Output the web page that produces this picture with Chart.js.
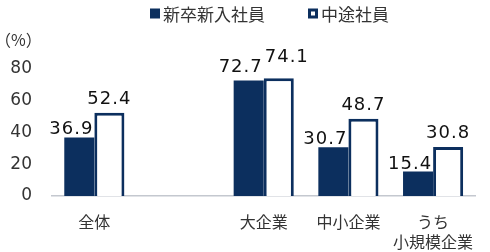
<!DOCTYPE html>
<html>
<head>
<meta charset="utf-8">
<script src="https://cdn.jsdelivr.net/npm/chart.js@4"></script>
<style>
  html, body { margin: 0; padding: 0; background: #fff; }
</style>
</head>
<body>
<canvas id="chart" width="490" height="252"></canvas>
<script>
// data
const categories = ['全体', '', '大企業', '中小企業', ['うち', '小規模企業']];
const newGradRates = [36.9, null, 72.7, 30.7, 15.4];
const midCareerRates = [52.4, null, 74.1, 48.7, 30.8];
const seriesNames = ['新卒新入社員', '中途社員'];
const yTicks = [0, 20, 40, 60, 80];
const unitLabel = '（%）';

const NAVY = '#0c2f5e';
const TEXT = '#333333';
const NUM_FONT = '"DejaVu Sans", "Noto Sans CJK JP", sans-serif';
const JP_FONT = '"Noto Sans CJK JP", "DejaVu Sans", sans-serif';

Chart.defaults.font.family = NUM_FONT;

// value labels above the bars; when the two labels of a group would collide
// they are lifted and the white bar's label is pushed to the right
const valueLabels = {
  id: 'valueLabels',
  afterDatasetsDraw(chart) {
    const ctx = chart.ctx;
    const dark = chart.getDatasetMeta(0).data;
    const light = chart.getDatasetMeta(1).data;
    ctx.save();
    ctx.font = '18px ' + NUM_FONT;
    ctx.letterSpacing = '1px';
    ctx.fillStyle = '#111';
    ctx.textBaseline = 'alphabetic';
    ctx.textAlign = 'left';
    const h = 14;
    categories.forEach((c, i) => {
      const a = newGradRates[i];
      const b = midCareerRates[i];
      if (a == null || b == null) return;
      const barA = dark[i];
      const barB = light[i];
      const txtA = a.toFixed(1);
      const txtB = b.toFixed(1);
      const wA = ctx.measureText(txtA).width;
      const wB = ctx.measureText(txtB).width;
      const rightA = barA.x + barA.width / 2 - 1;
      let yA = barA.y - 3;
      let yB = barB.y - 9;
      let leftB = barB.x - wB / 2;
      const overlapX = leftB < rightA;
      const overlapY = Math.abs(yA - yB) < h;
      if (overlapX && overlapY) {
        yA -= 6;
        yB -= 7;
        leftB = rightA + 2;
      }
      ctx.fillText(txtA, rightA - wA, yA);
      ctx.fillText(txtB, leftB, yB);
    });
    ctx.restore();
  }
};

// legend across the top and the unit label
const topLegend = {
  id: 'topLegend',
  afterDraw(chart) {
    const ctx = chart.ctx;
    ctx.save();
    ctx.font = '17px ' + JP_FONT;
    ctx.textBaseline = 'middle';
    ctx.textAlign = 'left';
    const box = 10, gap = 3, itemGap = 43, cy = 13.5;
    const widths = seriesNames.map(n => box + gap + ctx.measureText(n).width);
    let x = 150;
    seriesNames.forEach((name, i) => {
      const ds = chart.data.datasets[i];
      ctx.fillStyle = i === 0 ? ds.backgroundColor : NAVY;
      ctx.fillRect(x, cy - box / 2, box, box);
      if (i === 1) {
        ctx.fillStyle = '#ffffff';
        ctx.fillRect(x + 3, cy - box / 2 + 3, box - 6, box - 6);
      }
      ctx.fillStyle = TEXT;
      ctx.fillText(name, x + box + gap, cy + 1);
      x += widths[i] + itemGap;
    });
    ctx.font = '16px ' + JP_FONT;
    ctx.fillText(unitLabel, -5, 40);
    ctx.restore();
  }
};

new Chart(document.getElementById('chart'), {
  type: 'bar',
  data: {
    labels: categories,
    datasets: [
      {
        label: seriesNames[0],
        data: newGradRates,
        backgroundColor: NAVY,
        borderWidth: 0
      },
      {
        label: seriesNames[1],
        data: midCareerRates,
        backgroundColor: '#ffffff',
        borderColor: NAVY,
        borderWidth: 3,
        borderSkipped: 'bottom'
      }
    ]
  },
  options: {
    responsive: false,
    animation: false,
    events: [],
    categoryPercentage: 0.71,
    barPercentage: 1,
    layout: {
      padding: { top: 69, right: 9, bottom: 0, left: 0 }
    },
    plugins: {
      legend: { display: false },
      tooltip: { enabled: false }
    },
    scales: {
      x: {
        grid: { display: false, drawTicks: false },
        border: { display: true, color: '#c4c8cf', width: 1.5 },
        ticks: {
          color: TEXT,
          padding: 16,
          font: { size: 16, family: JP_FONT, lineHeight: 1.25 },
          maxRotation: 0,
          autoSkip: false
        },
        afterFit(scale) { scale.height = 56; }
      },
      y: {
        min: 0,
        max: 80,
        grid: { display: false, drawTicks: false },
        border: { display: false },
        afterBuildTicks(scale) { scale.ticks = yTicks.map(v => ({ value: v })); },
        ticks: {
          color: TEXT,
          padding: 20,
          font: { size: 17 }
        },
        afterFit(scale) { scale.width = 52; }
      }
    }
  },
  plugins: [valueLabels, topLegend]
});
</script>
</body>
</html>
